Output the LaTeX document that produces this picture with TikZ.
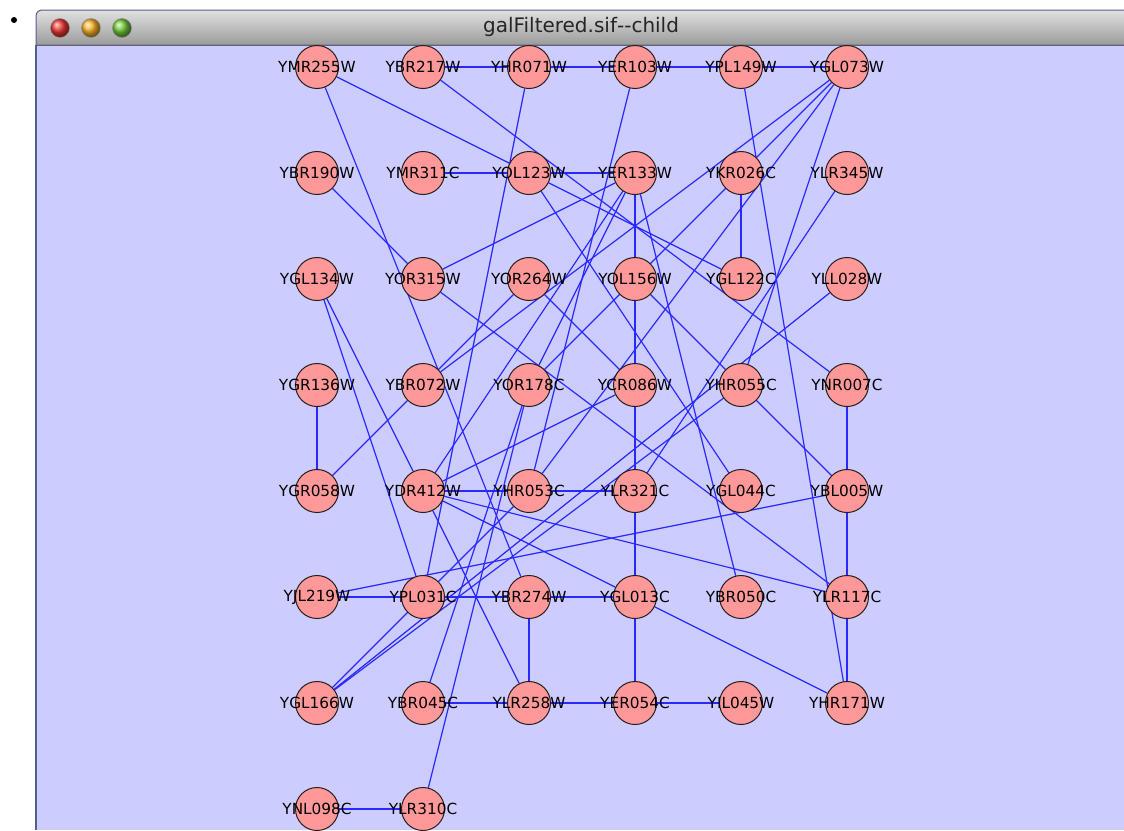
\documentclass[tikz,border=0pt]{standalone}
\usepackage{fontspec}
\setmainfont{DejaVu Sans}
\usepackage{xcolor}
\definecolor{canvasbg}{RGB}{204,204,255}
\definecolor{genefill}{RGB}{255,153,153}
\definecolor{genebd}{RGB}{40,30,30}
\definecolor{linkblue}{RGB}{40,40,255}
\definecolor{winbd}{RGB}{80,98,140}
\definecolor{bartop}{RGB}{225,225,225}
\definecolor{barbot}{RGB}{155,155,155}
\definecolor{btnred}{RGB}{240,55,50}
\definecolor{btnorange}{RGB}{250,180,40}
\definecolor{btngreen}{RGB}{115,205,60}
\usepackage{tikz}
\usetikzlibrary{positioning, calc}
\pgfdeclarelayer{back}
\pgfdeclarelayer{links}
\pgfsetlayers{back,links,main}

\begin{document}
\begin{tikzpicture}[
  x=1pt, y=-1pt,
  gene/.style={circle, draw=genebd, fill=genefill, line width=1pt, minimum size=43pt, inner sep=0pt, label={[genetext]center:#1}},
  genetext/.style={font=\fontsize{15.3}{15}\selectfont, text=black, inner sep=0pt},
  link/.style={draw=linkblue, line width=1.2pt},
  button/.style={draw=black!45, line width=0.5pt},
]
\useasboundingbox (0,0) rectangle (1124,830);

% Window frame and title bar
\begin{pgfonlayer}{back}
\fill[white] (0,0) rectangle (1124,830);
\fill[canvasbg] (36,45) rectangle (1124,830);
\shadedraw[top color=bartop, bottom color=barbot, draw=winbd, line width=1pt]
  (36,45) [rounded corners=6pt] -- (36,10) -- (1134,10) [sharp corners] -- (1134,45) -- cycle;
\draw[black!60, line width=1pt] (36,45) -- (1124,45);
\draw[winbd, line width=2.5pt] (36,45) -- (36,830);
\fill[black] (14,20) circle[radius=3];
\shadedraw[button, ball color=btnred] (60,28) circle[radius=9.5];
\shadedraw[button, ball color=btnorange] (91,28) circle[radius=9.5];
\shadedraw[button, ball color=btngreen] (122,28) circle[radius=9.5];
\end{pgfonlayer}

\node[font=\fontsize{20}{20}\selectfont, text=black!85] (title) at (581,27) {galFiltered.sif\mbox{-}\mbox{-}child};

% Row 1
\node[gene=YMR255W] (YMR255W) at (317,67) {};
\node[gene=YBR217W] (YBR217W) at (423,67) {};
\node[gene=YHR071W] (YHR071W) at (529,67) {};
\node[gene=YER103W] (YER103W) at (635,67) {};
\node[gene=YPL149W] (YPL149W) at (741,67) {};
\node[gene=YGL073W] (YGL073W) at (847,67) {};
% Row 2
\node[gene=YBR190W] (YBR190W) at (317,173) {};
\node[gene=YMR311C] (YMR311C) at (423,173) {};
\node[gene=YOL123W] (YOL123W) at (529,173) {};
\node[gene=YER133W] (YER133W) at (635,173) {};
\node[gene=YKR026C] (YKR026C) at (741,173) {};
\node[gene=YLR345W] (YLR345W) at (847,173) {};
% Row 3
\node[gene=YGL134W] (YGL134W) at (317,279) {};
\node[gene=YOR315W] (YOR315W) at (423,279) {};
\node[gene=YOR264W] (YOR264W) at (529,279) {};
\node[gene=YOL156W] (YOL156W) at (635,279) {};
\node[gene=YGL122C] (YGL122C) at (741,279) {};
\node[gene=YLL028W] (YLL028W) at (847,279) {};
% Row 4
\node[gene=YGR136W] (YGR136W) at (317,385) {};
\node[gene=YBR072W] (YBR072W) at (423,385) {};
\node[gene=YOR178C] (YOR178C) at (529,385) {};
\node[gene=YCR086W] (YCR086W) at (635,385) {};
\node[gene=YHR055C] (YHR055C) at (741,385) {};
\node[gene=YNR007C] (YNR007C) at (847,385) {};
% Row 5
\node[gene=YGR058W] (YGR058W) at (317,491) {};
\node[gene=YDR412W] (YDR412W) at (423,491) {};
\node[gene=YHR053C] (YHR053C) at (529,491) {};
\node[gene=YLR321C] (YLR321C) at (635,491) {};
\node[gene=YGL044C] (YGL044C) at (741,491) {};
\node[gene=YBL005W] (YBL005W) at (847,491) {};
% Row 6
\node[gene=YJL219W] (YJL219W) at (317,597) {};
\node[gene=YPL031C] (YPL031C) at (423,597) {};
\node[gene=YBR274W] (YBR274W) at (529,597) {};
\node[gene=YGL013C] (YGL013C) at (635,597) {};
\node[gene=YBR050C] (YBR050C) at (741,597) {};
\node[gene=YLR117C] (YLR117C) at (847,597) {};
% Row 7
\node[gene=YGL166W] (YGL166W) at (317,703) {};
\node[gene=YBR045C] (YBR045C) at (423,703) {};
\node[gene=YLR258W] (YLR258W) at (529,703) {};
\node[gene=YER054C] (YER054C) at (635,703) {};
\node[gene=YIL045W] (YIL045W) at (741,703) {};
\node[gene=YHR171W] (YHR171W) at (847,703) {};
% Row 8
\node[gene=YNL098C] (YNL098C) at (317,809) {};
\node[gene=YLR310C] (YLR310C) at (423,809) {};

% Interactions (under the nodes)
\begin{pgfonlayer}{links}
% horizontal
\draw[link] (YBR217W) -- (YHR071W);
\draw[link] (YHR071W) -- (YER103W);
\draw[link] (YER103W) -- (YPL149W);
\draw[link] (YPL149W) -- (YGL073W);
\draw[link] (YMR311C) -- (YOL123W);
\draw[link] (YOL123W) -- (YER133W);
\draw[link] (YDR412W) -- (YHR053C);
\draw[link] (YHR053C) -- (YLR321C);
\draw[link] (YJL219W) -- (YPL031C);
\draw[link] (YPL031C) -- (YBR274W);
\draw[link] (YBR274W) -- (YGL013C);
\draw[link] (YBR045C) -- (YLR258W);
\draw[link] (YLR258W) -- (YER054C);
\draw[link] (YER054C) -- (YIL045W);
\draw[link] (YNL098C) -- (YLR310C);
% vertical
\draw[link] (YGR136W) -- (YGR058W);
\draw[link] (YER133W) -- (YOL156W);
\draw[link] (YOL156W) -- (YCR086W);
\draw[link] (YCR086W) -- (YLR321C);
\draw[link] (YLR321C) -- (YGL013C);
\draw[link] (YGL013C) -- (YER054C);
\draw[link] (YKR026C) -- (YGL122C);
\draw[link] (YNR007C) -- (YBL005W);
\draw[link] (YBL005W) -- (YLR117C);
\draw[link] (YLR117C) -- (YHR171W);
\draw[link] (YBR274W) -- (YLR258W);
% diagonal
\draw[link] (YMR255W) -- (YOL123W);
\draw[link] (YOL123W) -- (YGL122C);
\draw[link] (YMR255W) -- (YBR274W);
\draw[link] (YBR217W) -- (YNR007C);
\draw[link] (YHR071W) -- (YPL031C);
\draw[link] (YER103W) -- (YHR053C);
\draw[link] (YPL149W) -- (YHR171W);
\draw[link] (YGL073W) -- (YBR072W);
\draw[link] (YGL073W) -- (YOR178C);
\draw[link] (YGL073W) -- (YHR053C);
\draw[link] (YGL073W) -- (YHR055C);
\draw[link] (YBR190W) -- (YOR315W);
\draw[link] (YOL123W) -- (YGL044C);
\draw[link] (YER133W) -- (YOR315W);
\draw[link] (YER133W) -- (YDR412W);
\draw[link] (YER133W) -- (YOR178C);
\draw[link] (YER133W) -- (YBR050C);
\draw[link] (YLR345W) -- (YLR321C);
\draw[link] (YGL134W) -- (YDR412W);
\draw[link] (YGL134W) -- (YPL031C);
\draw[link] (YOR315W) -- (YLR117C);
\draw[link] (YBR072W) -- (YOR264W);
\draw[link] (YBR072W) -- (YGR058W);
\draw[link] (YOR264W) -- (YCR086W);
\draw[link] (YOL156W) -- (YHR055C);
\draw[link] (YOR178C) -- (YBR045C);
\draw[link] (YOR178C) -- (YLR310C);
\draw[link] (YHR055C) -- (YBL005W);
\draw[link] (YDR412W) -- (YCR086W);
\draw[link] (YDR412W) -- (YGL013C);
\draw[link] (YDR412W) -- (YLR117C);
\draw[link] (YDR412W) -- (YLR258W);
\draw[link] (YJL219W) -- (YBL005W);
\draw[link] (YGL013C) -- (YHR171W);
\draw[link] (YGL166W) -- (YHR053C);
\draw[link] (YGL166W) -- (YHR055C);
\draw[link] (YGL166W) -- (YLL028W);
\end{pgfonlayer}
\end{tikzpicture}
\end{document}
